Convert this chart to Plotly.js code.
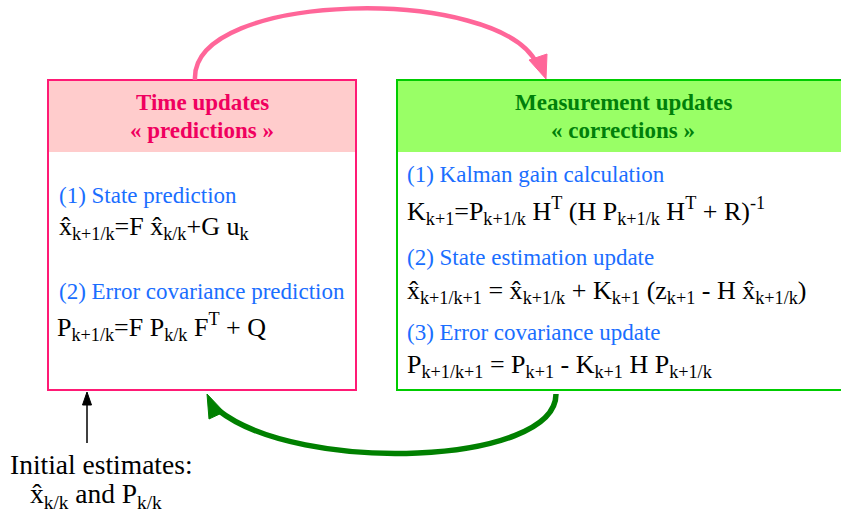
<!DOCTYPE html>
<html><head><meta charset="utf-8">
<script src="https://cdn.plot.ly/plotly-3.0.1.min.js"></script>
<style>html,body{margin:0;padding:0;background:#fff}
#chart text, #chart tspan, .annotation-text { font-family: "Liberation Serif", "Times New Roman", Times, serif !important; }
</style>
</head><body>
<div id="chart" style="width:841px;height:515px"></div>
<script>
// Box titles
const leftTitle = ["Time updates", "« predictions »"];
const rightTitle = ["Measurement updates", "« corrections »"];
// Step labels
const leftSteps = ["(1) State prediction", "(2) Error covariance prediction"];
const rightSteps = ["(1) Kalman gain calculation", "(2) State estimation update", "(3) Error covariance update"];
// Equations
const xh = "x\u0302";
const leftEqs = [
  xh + "<sub>k+1/k</sub>=F " + xh + "<sub>k/k</sub>+G u<sub>k</sub>",
  "P<sub>k+1/k</sub>=F P<sub>k/k</sub> F<sup>T</sup> + Q"
];
const rightEqs = [
  "K<sub>k+1</sub>=P<sub>k+1/k</sub> H<sup>T</sup> (H P<sub>k+1/k</sub> H<sup>T</sup> + R)<sup>-1</sup>",
  xh + "<sub>k+1/k+1</sub> = " + xh + "<sub>k+1/k</sub> + K<sub>k+1</sub> (z<sub>k+1</sub> - H " + xh + "<sub>k+1/k</sub>)",
  "P<sub>k+1/k+1</sub> = P<sub>k+1</sub> - K<sub>k+1</sub> H P<sub>k+1/k</sub>"
];
const initText = ["Initial estimates:", xh + "<sub>k/k</sub> and P<sub>k/k</sub>"];

(function(){
const serifFam = "Liberation Serif";
const blue = "#1a6eff";
const annList = [];
function addText(px, py, txt, fsize, fcolor, anchor, bold) {
  annList.push({x: px, y: py, xref: 'x', yref: 'y', text: bold ? "<b>" + txt + "</b>" : txt,
    showarrow: false, xanchor: anchor, yanchor: 'middle',
    font: {family: serifFam, size: fsize, color: fcolor}});
}
addText(202, 102, leftTitle[0], 23, "#f0005f", 'center', true);
addText(202, 130, leftTitle[1], 23, "#f0005f", 'center', true);
addText(57, 195, leftSteps[0], 23, blue, 'left');
addText(57, 228, leftEqs[0], 26, "#000", 'left');
addText(57, 291, leftSteps[1], 23, blue, 'left');
addText(55, 327, leftEqs[1], 26, "#000", 'left');
addText(623, 102, rightTitle[0], 23, "#00800a", 'center', true);
addText(623, 130, rightTitle[1], 23, "#00800a", 'center', true);
addText(405, 174, rightSteps[0], 23, blue, 'left');
addText(405, 211, rightEqs[0], 26, "#000", 'left');
addText(405, 257, rightSteps[1], 23, blue, 'left');
addText(405, 292, rightEqs[1], 26, "#000", 'left');
addText(405, 332, rightSteps[2], 23, blue, 'left');
addText(405, 366, rightEqs[2], 26, "#000", 'left');
addText(101, 464, initText[0], 27.5, "#000", 'center');
addText(96, 495, initText[1], 27.5, "#000", 'center');

const shapeList = [
  {type:'rect', x0:48, y0:80, x1:356, y1:152, fillcolor:'#ffcccc', line:{width:0}},
  {type:'rect', x0:48, y0:80, x1:356, y1:390, line:{color:'#ff1a75', width:2}},
  {type:'rect', x0:397, y0:80, x1:842, y1:152, fillcolor:'#99ff66', line:{width:0}},
  {type:'rect', x0:397, y0:80, x1:842, y1:390, line:{color:'#00cc00', width:2}},
  {type:'path', path:'M 195 80 C 190 -10, 500 -15, 537 64', line:{color:'#ff6699', width:4.5}},
  {type:'path', path:'M 546 79 L 529 60 L 547 54 Z', fillcolor:'#ff6699', line:{color:'#ff6699', width:1}},
  {type:'path', path:'M 556 394 C 556 465, 300 475, 218 410', line:{color:'#008000', width:5.5}},
  {type:'path', path:'M 207 394 L 209 419 L 224 412 Z', fillcolor:'#008000', line:{color:'#008000', width:1}},
  {type:'line', x0:87, y0:443, x1:87, y1:402, line:{color:'#000', width:1.5}},
  {type:'path', path:'M 87 392 L 82.5 405 L 91.5 405 Z', fillcolor:'#000', line:{color:'#000', width:1}}
];

const layout = {
  width: 841, height: 515,
  margin: {l:0, r:0, t:0, b:0},
  font: {family: serifFam},
  paper_bgcolor: '#fff', plot_bgcolor: '#fff',
  xaxis: {range:[0,841], visible:false},
  yaxis: {range:[515,0], visible:false},
  showlegend: false,
  shapes: shapeList,
  annotations: annList
};
Plotly.newPlot('chart', [], layout, {displayModeBar:false});
})();
</script></body></html>
